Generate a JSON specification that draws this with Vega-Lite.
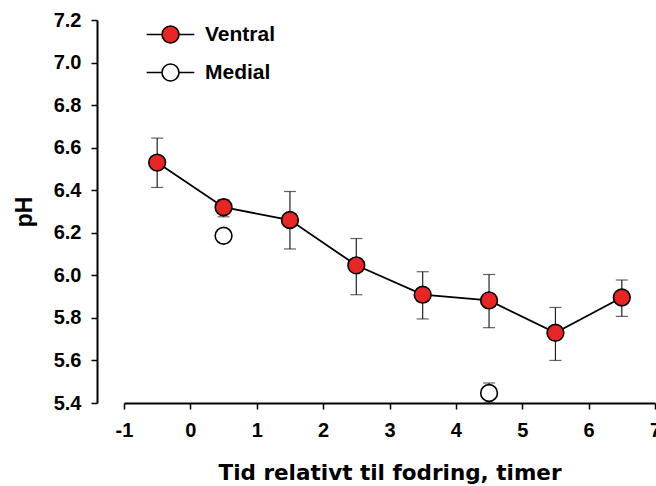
{
  "$schema": "https://vega.github.io/schema/vega-lite/v6.json",
  "autosize": "none",
  "width": 531,
  "height": 383,
  "padding": {"left": 124, "top": 20, "right": 1, "bottom": 83},
  "background": "white",
  "config": {
    "view": {"stroke": null},
    "axis": {"grid": false, "domainColor": "black", "tickColor": "black", "labelColor": "black", "titleColor": "black"}
  },
  "data": {
    "values": [
      {"series": "Ventral", "x": -0.5, "ph": 6.53, "lo": 6.413, "hi": 6.645},
      {"series": "Ventral", "x": 0.5, "ph": 6.32, "lo": 6.275, "hi": 6.355},
      {"series": "Ventral", "x": 1.5, "ph": 6.26, "lo": 6.124, "hi": 6.394},
      {"series": "Ventral", "x": 2.5, "ph": 6.047, "lo": 5.909, "hi": 6.173},
      {"series": "Ventral", "x": 3.5, "ph": 5.909, "lo": 5.795, "hi": 6.017},
      {"series": "Ventral", "x": 4.5, "ph": 5.882, "lo": 5.754, "hi": 6.004},
      {"series": "Ventral", "x": 5.5, "ph": 5.73, "lo": 5.6, "hi": 5.849},
      {"series": "Ventral", "x": 6.5, "ph": 5.896, "lo": 5.807, "hi": 5.978},
      {"series": "Medial", "x": 0.5, "ph": 6.186, "lo": null, "hi": null},
      {"series": "Medial", "x": 4.5, "ph": 5.447, "lo": 5.4, "hi": 5.494}
    ]
  },
  "encoding": {
    "x": {
      "field": "x", "type": "quantitative",
      "scale": {"domain": [-1, 7], "nice": false, "zero": false},
      "axis": {
        "values": [-1, 0, 1, 2, 3, 4, 5, 6, 7],
        "labelExpr": "replace(datum.label, '−', '-')",
        "title": "Tid relativt til fodring, timer",
        "titleFont": "DejaVu Sans", "titleFontSize": 21.5, "titleFontWeight": "bold", "titlePadding": 22,
        "labelFont": "Liberation Sans", "labelFontSize": 20, "labelFontWeight": "bold", "labelPadding": 11,
        "labelFlush": false, "labelOverlap": false,
        "tickSize": 6, "tickWidth": 1.5, "domainWidth": 2.2
      }
    }
  },
  "layer": [
    {
      "transform": [{"filter": "datum.lo != null"}],
      "mark": {"type": "errorbar", "ticks": {"size": 12, "thickness": 1.2, "color": "#222222"}, "rule": {"strokeWidth": 1.2, "color": "#222222"}},
      "encoding": {
        "y": {
          "field": "lo", "type": "quantitative",
          "scale": {"domain": [5.4, 7.2], "nice": false, "zero": false},
          "axis": {
            "values": [5.4, 5.6, 5.8, 6.0, 6.2, 6.4, 6.6, 6.8, 7.0, 7.2],
            "format": ".1f",
            "title": "pH",
            "titleFont": "Liberation Sans", "titleFontSize": 23, "titleFontWeight": "bold", "titlePadding": 17,
            "labelFont": "Liberation Sans", "labelFontSize": 20, "labelFontWeight": "bold", "labelPadding": 10,
            "labelFlush": false, "labelOverlap": false,
            "tickSize": 6, "tickWidth": 1.5, "domainWidth": 2, "offset": 27
          }
        },
        "y2": {"field": "hi"}
      }
    },
    {
      "transform": [{"filter": "datum.series == 'Ventral'"}],
      "mark": {"type": "line", "color": "black", "strokeWidth": 1.8},
      "encoding": {
        "y": {"field": "ph", "type": "quantitative", "title": "pH"}
      }
    },
    {
      "mark": {"type": "point", "filled": true, "size": 280, "stroke": "black", "strokeWidth": 1.6, "opacity": 1},
      "encoding": {
        "y": {"field": "ph", "type": "quantitative", "title": "pH"},
        "fill": {
          "field": "series", "type": "nominal",
          "scale": {"domain": ["Ventral", "Medial"], "range": ["#e82424", "white"]},
          "legend": {
            "title": null,
            "orient": "none",
            "legendX": 36,
            "legendY": 4,
            "symbolType": "M-2.8,0L-1,0M1,0L2.8,0M1,0A1,1,0,1,1,-1,0A1,1,0,1,1,1,0Z",
            "symbolSize": 289,
            "symbolStrokeColor": "black",
            "symbolStrokeWidth": 1.6,
            "symbolOpacity": 1,
            "labelFont": "Liberation Sans", "labelFontSize": 21, "labelFontWeight": "bold", "labelColor": "black",
            "labelOffset": 24,
            "rowPadding": 13
          }
        }
      }
    }
  ]
}
